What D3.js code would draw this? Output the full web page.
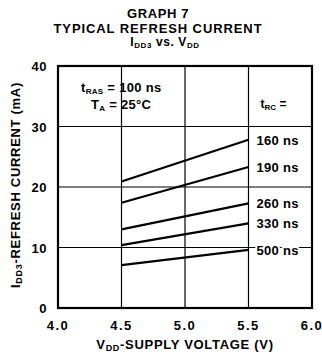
<!DOCTYPE html>
<html>
<head>
<meta charset="utf-8">
<script src="https://cdn.jsdelivr.net/npm/d3@7"></script>
<style>
  body { margin: 0; background: #fff; }
  text { font-family: "Liberation Sans", Arial, sans-serif; font-weight: bold; fill: #000; }
</style>
</head>
<body>
<div id="chart"></div>
<script>
// data
var voltages = [4.5, 5.5];
var seriesNames = ["160 ns", "190 ns", "260 ns", "330 ns", "500 ns"];
var current160 = [20.9, 27.8];
var current190 = [17.4, 23.3];
var current260 = [13.0, 17.3];
var current330 = [10.4, 14.0];
var current500 = [7.1, 9.6];
var xTicks = [4.0, 4.5, 5.0, 5.5, 6.0];
var yTicks = [0, 10, 20, 30, 40];

var allSeries = [current160, current190, current260, current330, current500];

var width = 322, height = 354;
var margin = {top: 66, right: 10, bottom: 46, left: 58};

var svg = d3.select("#chart").append("svg")
    .attr("width", width)
    .attr("height", height);

var x = d3.scaleLinear().domain([4.0, 6.0]).range([margin.left, width - margin.right]);
var y = d3.scaleLinear().domain([0, 40]).range([height - margin.bottom, margin.top]);

// title block
svg.append("text").attr("x", 158).attr("y", 18).attr("text-anchor", "middle")
    .style("font-size", "13px").style("letter-spacing", "0.6px").text("GRAPH 7");
svg.append("text").attr("x", 158).attr("y", 33).attr("text-anchor", "middle")
    .style("font-size", "13px").style("letter-spacing", "0.9px").text("TYPICAL REFRESH CURRENT");
var sub = svg.append("text").attr("x", 165).attr("y", 46).attr("text-anchor", "middle")
    .style("font-size", "12px").style("letter-spacing", "0.6px");
sub.append("tspan").text("I");
sub.append("tspan").attr("dy", 2).style("font-size", "8px").text("DD3");
sub.append("tspan").attr("dy", -2).text(" vs. V");
sub.append("tspan").attr("dy", 2).style("font-size", "8px").text("DD");

// grid
var grid = svg.append("g");
grid.selectAll(".vg").data(xTicks.slice(1, -1)).enter().append("line")
    .attr("x1", function(d) { return x(d); }).attr("x2", function(d) { return x(d); })
    .attr("y1", y(0)).attr("y2", y(40))
    .attr("stroke", "#000").attr("stroke-width", 1.2);
grid.selectAll(".hg").data(yTicks.slice(1, -1)).enter().append("line")
    .attr("x1", x(4.0)).attr("x2", x(6.0))
    .attr("y1", function(d) { return y(d); }).attr("y2", function(d) { return y(d); })
    .attr("stroke", "#000").attr("stroke-width", 1.2);

// frame
svg.append("rect")
    .attr("x", x(4.0)).attr("y", y(40))
    .attr("width", x(6.0) - x(4.0)).attr("height", y(0) - y(40))
    .attr("fill", "none").attr("stroke", "#000").attr("stroke-width", 2.2);

// axes labels
svg.selectAll(".yt").data(yTicks).enter().append("text")
    .attr("x", x(4.0) - 11).attr("y", function(d) { return y(d) + 5; })
    .attr("text-anchor", "end").style("font-size", "13px").style("letter-spacing", "0.5px")
    .text(function(d) { return d; });
svg.selectAll(".xt").data(xTicks).enter().append("text")
    .attr("x", function(d) { return x(d); }).attr("y", y(0) + 22)
    .attr("text-anchor", "middle").style("font-size", "13px").style("letter-spacing", "1.5px")
    .text(function(d) { return d.toFixed(1); });

var xt = svg.append("text").attr("x", x(5.0)).attr("y", height - 5)
    .attr("text-anchor", "middle").style("font-size", "13px").style("letter-spacing", "0.7px");
xt.append("tspan").text("V");
xt.append("tspan").attr("dy", 2).style("font-size", "9px").text("DD");
xt.append("tspan").attr("dy", -2).text("-SUPPLY VOLTAGE (V)");

var yt = svg.append("text")
    .attr("transform", "translate(20," + (y(20) - 2) + ") rotate(-90)")
    .attr("text-anchor", "middle").style("font-size", "13px").style("letter-spacing", "0.7px");
yt.append("tspan").text("I");
yt.append("tspan").attr("dy", 2).style("font-size", "9px").text("DD3");
yt.append("tspan").attr("dy", -2).text("-REFRESH CURRENT (mA)");

// curves
var line = d3.line()
    .x(function(d, i) { return x(voltages[i]); })
    .y(function(d) { return y(d); });
svg.selectAll(".curve").data(allSeries).enter().append("path")
    .attr("d", line)
    .attr("fill", "none").attr("stroke", "#000").attr("stroke-width", 2.2);

// series labels
svg.selectAll(".lab").data(allSeries).enter().append("text")
    .attr("x", x(5.5) + 8).attr("y", function(d) { return y(d[1]) + 5; })
    .style("font-size", "13px").style("letter-spacing", "0.3px")
    .attr("stroke", "#fff").attr("stroke-width", 4).style("paint-order", "stroke")
    .text(function(d, i) { return seriesNames[i]; });

// annotations
var rc = svg.append("text").attr("x", x(5.5) + 12).attr("y", 108).style("font-size", "12px");
rc.append("tspan").text("t");
rc.append("tspan").attr("dy", 2).style("font-size", "8px").text("RC");
rc.append("tspan").attr("dy", -2).text(" =");

var ras = svg.append("text").attr("x", 81).attr("y", 92).style("font-size", "13px").style("letter-spacing", "0.3px");
ras.append("tspan").text("t");
ras.append("tspan").attr("dy", 2).style("font-size", "8px").text("RAS");
ras.append("tspan").attr("dy", -2).text(" = 100 ns");

var ta = svg.append("text").attr("x", 91).attr("y", 109).style("font-size", "13px").style("letter-spacing", "0.3px");
ta.append("tspan").text("T");
ta.append("tspan").attr("dy", 2).style("font-size", "8px").text("A");
ta.append("tspan").attr("dy", -2).text(" = 25°C");
</script>
</body>
</html>
